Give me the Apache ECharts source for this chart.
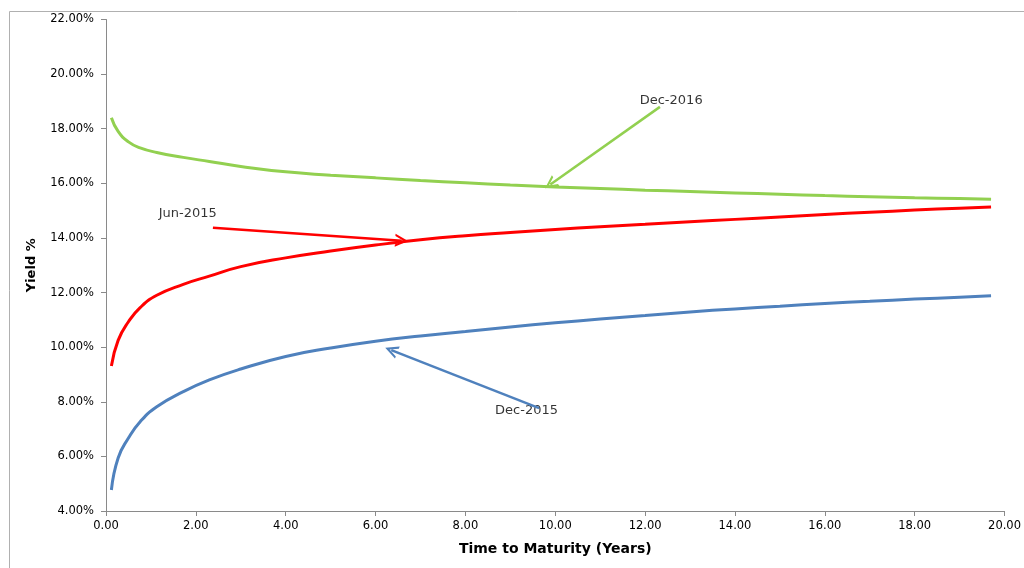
<!DOCTYPE html>
<html><head><meta charset="utf-8">
<script src="https://cdn.jsdelivr.net/npm/echarts@6/dist/echarts.min.js"></script>
<style>html,body{margin:0;padding:0;background:#fff}#c{width:1024px;height:568px}</style>
</head><body><div id="c"></div>
<script>
// Time to maturity (years)
const maturity = [0.12, 0.27, 0.5, 0.76, 1.13, 1.72, 2.3, 3, 4, 5, 6, 7, 8, 9, 10, 11, 12, 13, 14, 15, 16, 17, 18, 19, 19.7];
// Yields (%)
const dec2015 = [4.77, 5.94, 6.67, 7.27, 7.82, 8.37, 8.8, 9.2, 9.66, 9.97, 10.22, 10.41, 10.57, 10.74, 10.89, 11.03, 11.16, 11.29, 11.4, 11.5, 11.6, 11.68, 11.76, 11.83, 11.88];
const jun2015 = [9.31, 10.25, 10.93, 11.45, 11.9, 12.3, 12.6, 12.95, 13.27, 13.52, 13.74, 13.93, 14.08, 14.2, 14.31, 14.41, 14.5, 14.59, 14.68, 14.77, 14.86, 14.94, 15.02, 15.09, 15.13];
const dec2016 = [18.4, 17.9, 17.52, 17.3, 17.13, 16.95, 16.8, 16.62, 16.42, 16.3, 16.2, 16.1, 16.02, 15.94, 15.87, 15.81, 15.75, 15.7, 15.65, 15.6, 15.55, 15.51, 15.47, 15.44, 15.42];
const seriesNames = ['Dec-2015', 'Jun-2015', 'Dec-2016'];
// Annotation arrows: [from x, from y] -> [to x, to y] (data units)
const arrowFrom = [[9.64, 7.77], [2.38, 14.37], [12.33, 18.8]];
const arrowTo = [[6.35, 9.89], [6.58, 13.9], [9.89, 15.96]];
const labelPos = [[9.36, 7.66], [1.82, 14.88], [12.58, 19.02]];

const colors = ['#4F81BD', '#FF0000', '#92D050'];
const zip = arr => maturity.map((x, i) => [x, arr[i]]);
const values = [dec2015, jun2015, dec2016];
const chevron = 'path://M0,10 L5,0 L10,10 L8.2,10 L5,3.6 L1.8,10 Z';

const series = values.map((v, i) => ({
  name: seriesNames[i], type: 'line', data: zip(v), smooth: true, showSymbol: false,
  lineStyle: { color: colors[i], width: 3 }, silent: true,
  markLine: {
    silent: true, symbol: ['none', chevron], symbolSize: 13,
    itemStyle: { color: colors[i] },
    lineStyle: { color: colors[i], width: 2.5, type: 'solid' }, label: { show: false },
    data: [[{ coord: arrowFrom[i] }, { coord: arrowTo[i] }]]
  }
}));
series.push({
  type: 'scatter', symbolSize: 0, silent: true,
  data: labelPos.map((p, i) => ({ value: p, label: { formatter: seriesNames[i] } })),
  label: { show: true, position: 'inside', color: '#000', fontFamily: 'DejaVu Sans', fontSize: 13 }
});

const chart = echarts.init(document.getElementById('c'));
chart.setOption({
  animation: false,
  graphic: [{ type: 'rect', shape: { x: 9.5, y: 11.5, width: 1100, height: 700 }, style: { fill: 'none', stroke: '#b0b0b0', lineWidth: 1 } }],
  grid: { left: 106, top: 19.5, width: 900, height: 491.5 },
  xAxis: {
    type: 'value', min: 0, max: 20, interval: 2,
    name: 'Time to Maturity (Years)', nameLocation: 'middle', nameGap: 31,
    nameTextStyle: { fontFamily: 'DejaVu Sans', fontWeight: 'bold', fontSize: 14, color: '#000' },
    axisLine: { lineStyle: { color: '#8a8a8a' } },
    axisTick: { show: true, length: 5, lineStyle: { color: '#8a8a8a' } },
    splitLine: { show: false },
    axisLabel: { formatter: v => v.toFixed(2), fontFamily: 'DejaVu Sans', fontSize: 11.5, color: '#000', margin: 9 }
  },
  yAxis: {
    type: 'value', min: 4, max: 22, interval: 2,
    name: 'Yield %', nameLocation: 'middle', nameGap: 68, nameRotate: 90,
    nameTextStyle: { fontFamily: 'DejaVu Sans', fontWeight: 'bold', fontSize: 13, color: '#000' },
    axisLine: { show: true, lineStyle: { color: '#8a8a8a' } },
    axisTick: { show: true, length: 5, lineStyle: { color: '#8a8a8a' } },
    splitLine: { show: false },
    axisLabel: { formatter: v => v.toFixed(2) + '%', fontFamily: 'DejaVu Sans', fontSize: 11.5, color: '#000', margin: 12 }
  },
  series
});
</script></body></html>
